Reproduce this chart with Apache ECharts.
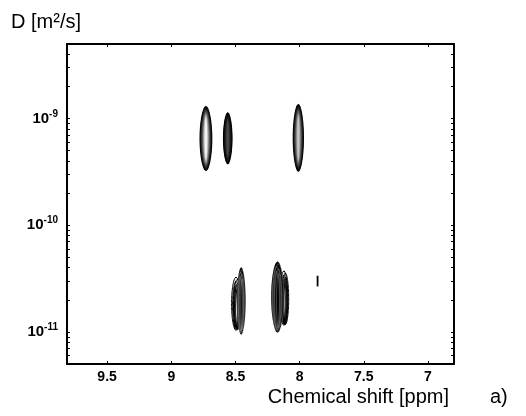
<!DOCTYPE html>
<html>
<head>
<meta charset="UTF-8">
<title>DOSY</title>
<script src="https://cdn.jsdelivr.net/npm/echarts@6/dist/echarts.min.js"></script>
<style>
html,body{margin:0;padding:0;background:#fff;}
#chart{width:526px;height:416px;}
</style>
</head>
<body>
<div id="chart"></div>
<script>
// 峰数据：化学位移(ppm)、扩散系数上下限(m²/s)、峰宽(ppm)
var peakShift = [8.73, 8.56, 8.01, 8.49, 8.455, 8.117, 8.172, 7.86];
var peakDTop  = [1.32e-9, 1.15e-9, 1.38e-9, 3.27e-11, 4.05e-11, 3.74e-11, 4.6e-11, 3.36e-11];
var peakDBot  = [3.2e-10, 3.7e-10, 3.15e-10, 1.03e-11, 9.4e-12, 1.15e-11, 9.8e-12, 2.67e-11];
var peakWidth = [0.1, 0.075, 0.088, 0.07, 0.07, 0.06, 0.1, 0.014];

var xTicks = [9.5, 9, 8.5, 8, 7.5, 7];
var yTicks = [1e-11, 1e-10, 1e-9];

var X_MIN = 6.797, X_MAX = 9.8125;
var Y_MIN = 5e-12, Y_MAX = 5e-9;

// 每个峰的画法
var peakStyle = ['light', 'dark', 'mid', 'lines', 'hatch', 'lines', 'hatch', 'bar'];
var coreColor = {light: '#f2f2f2', dark: '#4a4a4a', mid: '#c4c4c4'};

// 对数轴的小刻度 2..9
var yMinor = [];
for (var e = -12; e <= -9; e++) {
	for (var m = 1; m <= 9; m++) {
		var v = m * Math.pow(10, e);
		if (v >= Y_MIN && v <= Y_MAX) yMinor.push(v);
	}
}

function lerpColor(a, b, t) {
	var pa = parseInt(a.slice(1), 16), pb = parseInt(b.slice(1), 16);
	var r = Math.round(((pa >> 16) & 255) * (1 - t) + ((pb >> 16) & 255) * t);
	var g = Math.round(((pa >> 8) & 255) * (1 - t) + ((pb >> 8) & 255) * t);
	var bl = Math.round((pa & 255) * (1 - t) + (pb & 255) * t);
	return 'rgb(' + r + ',' + g + ',' + bl + ')';
}

// 纺锤形轮廓
function spindle(cx, cy, hw, hh, n) {
	var pts = [], i, u, w;
	for (i = 0; i <= n; i++) {
		u = -1 + 2 * i / n;
		w = hw * Math.pow(Math.max(0, 1 - u * u), 0.55);
		pts.push([cx + w, cy + u * hh]);
	}
	for (i = n; i >= 0; i--) {
		u = -1 + 2 * i / n;
		w = hw * Math.pow(Math.max(0, 1 - u * u), 0.55);
		pts.push([cx - w, cy + u * hh]);
	}
	return pts;
}

function renderPeak(params, api) {
	var x = api.value(0), top = api.value(1), bot = api.value(2), w = api.value(3);
	var style = peakStyle[params.dataIndex];
	var pTop = api.coord([x, top]);
	var pBot = api.coord([x, bot]);
	var pSide = api.coord([x + w / 2, top]);
	var cx = pTop[0];
	var cy = (pTop[1] + pBot[1]) / 2;
	var hh = (pBot[1] - pTop[1]) / 2;
	var hw = Math.abs(pSide[0] - pTop[0]);
	var children = [], k, s, n;

	if (style === 'bar') {
		children.push({type: 'rect', shape: {x: cx - hw, y: pTop[1], width: hw * 2, height: hh * 2},
			style: {fill: '#000'}});
	} else if (style === 'lines') {
		n = 7;
		for (k = 0; k < n; k++) {
			s = 1 - k / n * 0.8;
			children.push({type: 'polygon', shape: {points: spindle(cx + (k % 2 ? 0.7 : -0.7), cy + k * 0.8, hw * s, hh * (1 - k / n * 0.35), 40)},
				style: {fill: 'none', stroke: '#000', lineWidth: 1}});
		}
	} else if (style === 'hatch') {
		children.push({type: 'polygon', shape: {points: spindle(cx, cy, hw, hh, 50)}, style: {fill: '#050505'}});
		n = 6;
		for (k = 1; k < n; k++) {
			s = 1 - k / n * 0.85;
			children.push({type: 'polygon', shape: {points: spindle(cx + (k % 2 ? 0.8 : -0.8), cy + k * 0.7, hw * s, hh * (1 - k / n * 0.3), 40)},
				style: {fill: 'none', stroke: 'rgba(255,255,255,0.4)', lineWidth: 0.6}});
		}
	} else {
		n = 10;
		for (k = 0; k < n; k++) {
			s = 1 - k / n * 0.9;
			children.push({type: 'polygon', shape: {points: spindle(cx, cy, hw * s, hh * (1 - k / n * 0.4), 50)},
				style: {fill: lerpColor('#000000', coreColor[style], Math.pow(k / (n - 1), 1.4))}});
		}
	}
	return {type: 'group', children: children};
}

var peakData = [];
for (var i = 0; i < peakShift.length; i++) {
	peakData.push([peakShift[i], peakDTop[i], peakDBot[i], peakWidth[i]]);
}

var FONT = 'Liberation Sans, Arial, sans-serif';

function xAxisDef(pos, showLabel) {
	return {
		type: 'value', position: pos, inverse: true, min: X_MIN, max: X_MAX,
		axisLine: {show: true, onZero: false, lineStyle: {color: '#000', width: 2}},
		axisTick: {show: true, inside: true, length: 3, customValues: xTicks, lineStyle: {color: '#000', width: 1}},
		axisLabel: {show: showLabel, customValues: xTicks, color: '#000', fontSize: 14, fontWeight: 'bold', fontFamily: FONT, margin: 6},
		splitLine: {show: false}
	};
}

function yAxisDef(pos, showLabel) {
	return {
		type: 'log', logBase: 10, position: pos, min: Y_MIN, max: Y_MAX,
		axisLine: {show: true, onZero: false, lineStyle: {color: '#000', width: 2}},
		axisTick: {show: true, inside: true, length: 3, customValues: yMinor, lineStyle: {color: '#000', width: 1}},
		axisLabel: {
			show: showLabel, customValues: yTicks, margin: 9,
			formatter: function (v) {
				return '{b|10}{s|' + Math.round(Math.log10(v)) + '}';
			},
			rich: {
				b: {fontSize: 15, fontWeight: 'bold', fontFamily: FONT, color: '#000'},
				s: {fontSize: 10, fontWeight: 'bold', fontFamily: FONT, color: '#000', padding: [0, 0, 9, 0]}
			}
		},
		splitLine: {show: false},
		minorTick: {show: false}
	};
}

var myChart = echarts.init(document.getElementById('chart'));
var option = {
	backgroundColor: '#fff',
	animation: false,
	grid: {left: 67, right: 72, top: 44, bottom: 52, containLabel: false, outerBoundsMode: 'none'},
	xAxis: [xAxisDef('bottom', true), xAxisDef('top', false)],
	yAxis: [yAxisDef('left', true), yAxisDef('right', false)],
	graphic: [
		{type: 'text', left: 11, top: 12, style: {text: 'D [m²/s]', fontSize: 20, fontFamily: FONT, fill: '#000'}},
		{type: 'text', right: 77, top: 387, style: {text: 'Chemical shift [ppm]', fontSize: 20, fontFamily: FONT, fill: '#000'}},
		{type: 'text', left: 490, top: 387, style: {text: 'a)', fontSize: 20, fontFamily: FONT, fill: '#000'}}
	],
	series: [{
		type: 'custom',
		xAxisIndex: 0,
		yAxisIndex: 0,
		renderItem: renderPeak,
		clip: true,
		data: peakData
	}]
};
myChart.setOption(option);
window.addEventListener('resize', function () { myChart.resize(); });
</script>
</body>
</html>
